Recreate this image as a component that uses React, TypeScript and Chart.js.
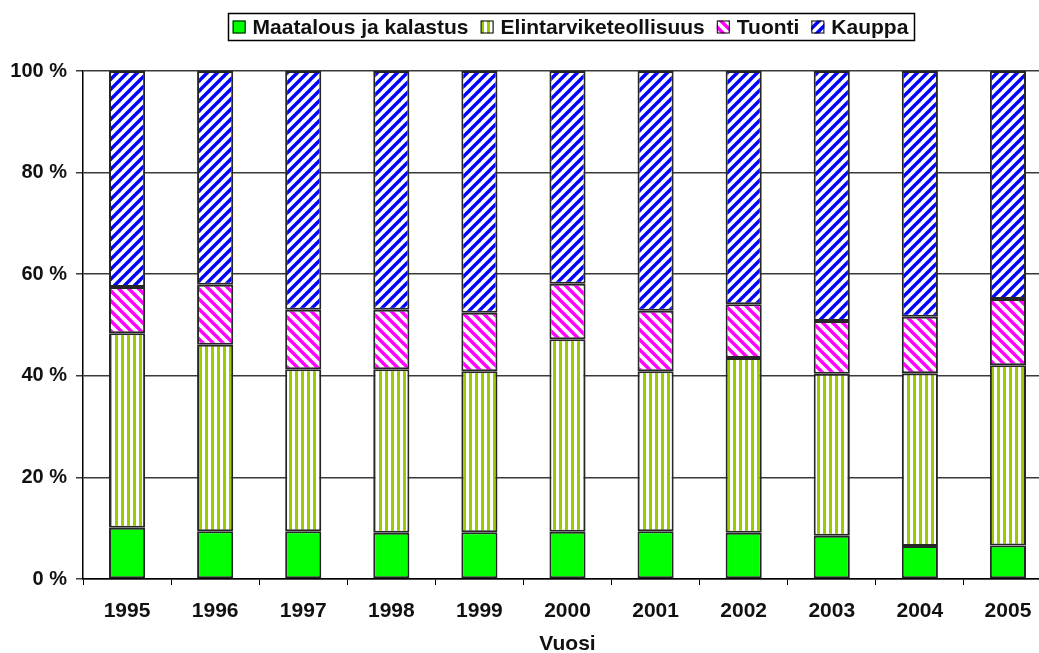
import React, { useEffect, useRef } from 'react';
import { Chart, registerables } from 'chart.js';

Chart.register(...registerables);

const years = ['1995', '1996', '1997', '1998', '1999', '2000', '2001', '2002', '2003', '2004', '2005'];
const maatalous = [10.1, 9.4, 9.4, 9.1, 9.2, 9.3, 9.4, 9.1, 8.5, 6.5, 6.6];
const elintarvike = [38.3, 36.7, 31.9, 32.2, 31.7, 37.9, 31.5, 34.4, 31.9, 34.0, 35.5];
const tuonti = [9.1, 11.8, 11.7, 11.7, 11.5, 10.9, 11.9, 10.6, 10.4, 11.1, 13.0];
const kauppa = [42.5, 42.1, 47.0, 47.0, 47.6, 41.9, 47.2, 45.9, 49.2, 48.4, 44.9];
const seriesLabels = ['Maatalous ja kalastus', 'Elintarviketeollisuus', 'Tuonti', 'Kauppa'];
const yTicks = [0, 20, 40, 60, 80, 100];

const FONT = '"Liberation Sans", Arial, sans-serif';
const TEXT = '#111';

function makeDiag(color: string, dir: '/' | '\\', size = 10, lw = 3.4) {
  const c = document.createElement('canvas');
  c.width = size;
  c.height = size;
  const g = c.getContext('2d')!;
  g.fillStyle = '#fff';
  g.fillRect(0, 0, size, size);
  g.strokeStyle = color;
  g.lineWidth = lw;
  for (let k = -1; k <= 1; k++) {
    g.beginPath();
    if (dir === '/') {
      g.moveTo(k * size - size, 2 * size);
      g.lineTo(k * size + 2 * size, -size);
    } else {
      g.moveTo(k * size - size, -size);
      g.lineTo(k * size + 2 * size, 2 * size);
    }
    g.stroke();
  }
  return g.createPattern(c, 'repeat')!;
}

function makeVert(color: string) {
  const c = document.createElement('canvas');
  c.width = 6;
  c.height = 6;
  const g = c.getContext('2d')!;
  g.fillStyle = '#fff';
  g.fillRect(0, 0, 6, 6);
  g.fillStyle = color;
  g.fillRect(1, 0, 3, 6);
  return g.createPattern(c, 'repeat')!;
}

const boxLegend = {
  id: 'boxLegend',
  afterDraw(chart: any) {
    const ctx = chart.ctx as CanvasRenderingContext2D;
    const area = chart.chartArea;
    ctx.save();
    ctx.font = `bold 21px ${FONT}`;
    const box = 13;
    const gapText = 7;
    const gapItem = 12;
    const items = chart.data.datasets.map((ds: any) => ({
      label: ds.label as string,
      fill: ds.backgroundColor,
      w: ctx.measureText(ds.label).width,
    }));
    const total = items.reduce((s: number, it: any) => s + box + gapText + it.w, 0) + gapItem * (items.length - 1);
    const cx = (area.left + area.right) / 2 + 3;
    let x = cx - total / 2;
    const cy = 27;
    ctx.lineWidth = 1.5;
    ctx.strokeStyle = '#000';
    ctx.strokeRect(Math.round(x - 5) + 0.5, 13.5, Math.round(total + 10), 27);
    ctx.textBaseline = 'middle';
    ctx.textAlign = 'left';
    for (const it of items) {
      ctx.fillStyle = it.fill;
      ctx.fillRect(x, cy - box / 2, box, box);
      ctx.lineWidth = 1;
      ctx.strokeStyle = '#000';
      ctx.strokeRect(x + 0.5, cy - box / 2 + 0.5, box - 1, box - 1);
      ctx.fillStyle = TEXT;
      ctx.fillText(it.label, x + box + gapText, cy + 1);
      x += box + gapText + it.w + gapItem;
    }
    ctx.restore();
  },
};

export default function App() {
  const ref = useRef<HTMLCanvasElement>(null);

  useEffect(() => {
    const canvas = ref.current!;
    const green = '#00ff00';
    const lime = makeVert('#99cc00');
    const pink = makeDiag('#ff00ff', '\\');
    const blue = makeDiag('#0000ff', '/');
    const fills = [green, lime, pink, blue];
    const values = [maatalous, elintarvike, tuonti, kauppa];

    const chart = new Chart(canvas, {
      type: 'bar',
      data: {
        labels: years,
        datasets: values.map((v, i) => ({
          label: seriesLabels[i],
          data: v,
          backgroundColor: fills[i] as any,
          borderColor: '#262626',
          borderWidth: 2,
          borderSkipped: false,
          categoryPercentage: 1,
          barPercentage: 0.41,
        })),
      },
      options: {
        responsive: false,
        animation: false,
        layout: { padding: { top: 71, right: 8, bottom: 0, left: 0 } },
        plugins: {
          legend: { display: false },
          tooltip: { enabled: false },
        },
        scales: {
          x: {
            stacked: true,
            grid: { display: true, drawOnChartArea: false, drawTicks: true, tickLength: 6, color: '#000', offset: true },
            border: { color: '#000', width: 1.5 },
            ticks: { color: TEXT, font: { family: FONT, size: 21, weight: 'bold' }, padding: 14, maxRotation: 0 },
            title: { display: true, text: 'Vuosi', color: TEXT, font: { family: FONT, size: 21, weight: 'bold' }, padding: { top: 0, bottom: -4 } },
            afterFit: (scale: any) => { scale.height = 74; },
          },
          y: {
            stacked: true,
            min: 0,
            max: 100,
            afterBuildTicks: (scale: any) => { scale.ticks = yTicks.map((v) => ({ value: v })); },
            grid: { color: '#3a3a3a', lineWidth: 1.5, tickLength: 7 },
            border: { color: '#000', width: 1.5 },
            ticks: {
              color: TEXT,
              font: { family: FONT, size: 20, weight: 'bold' },
              padding: 9,
              callback: (v: any) => `${v} %`,
            },
            afterFit: (scale: any) => { scale.width = 83; },
          },
        },
      },
      plugins: [boxLegend],
    });
    return () => chart.destroy();
  }, []);

  return (
    <div style={{ position: 'fixed', left: 0, top: 0, width: 1039, height: 653, overflow: 'hidden', background: '#fff' }}>
      <canvas ref={ref} width={1060} height={653} style={{ display: 'block', width: 1060, height: 653 }} />
    </div>
  );
}
